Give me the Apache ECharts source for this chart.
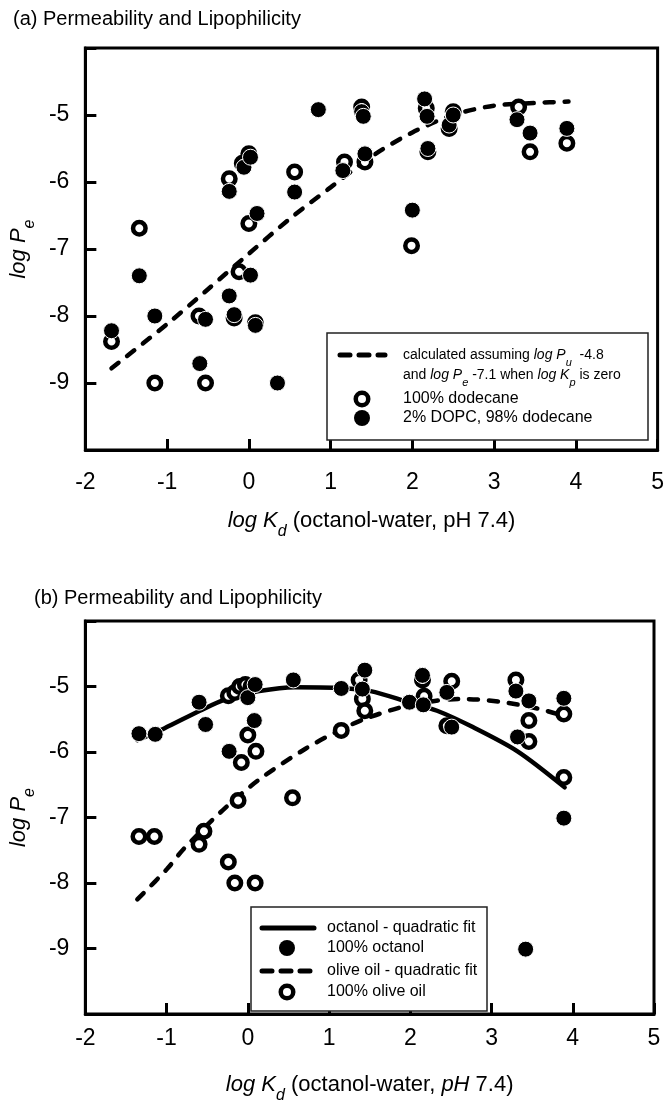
<!DOCTYPE html>
<html>
<head>
<meta charset="utf-8">
<script src="https://cdn.jsdelivr.net/npm/echarts@6/dist/echarts.min.js"></script>
<title>Permeability and Lipophilicity</title>
<style>html, body { margin: 0; padding: 0; background: #fff; }</style>
</head>
<body>
<div id="container" style="width:667px;height:1105px;"></div>
<script>
// tick labels shown on the axes
var xTickLabels = [-2, -1, 0, 1, 2, 3, 4, 5];
var yTickLabels = [-9, -8, -7, -6, -5];

// (a) log Kd vs log Pe, dodecane membranes
var dodecane = [
    [-1.68, -8.38], [-1.34, -6.69], [-1.15, -9.0], [-0.61, -8.0], [-0.53, -9.0],
    [-0.24, -5.95], [-0.18, -8.03], [-0.12, -7.34], [0.0, -6.62], [0.0, -5.58],
    [-0.08, -5.72], [0.08, -8.1], [0.56, -5.85], [1.17, -5.7], [1.38, -4.88],
    [1.42, -5.7], [1.99, -6.95], [2.17, -4.9], [2.19, -5.55], [2.45, -5.2],
    [2.5, -4.95], [3.3, -4.88], [3.44, -5.55], [3.89, -5.42]
];
var dopc = [
    [-1.68, -8.22], [-1.34, -7.4], [-1.15, -8.0], [-0.6, -8.71], [-0.53, -8.05],
    [-0.24, -6.14], [-0.24, -7.7], [-0.18, -7.98], [-0.06, -5.78], [0.02, -5.63],
    [0.1, -6.47], [0.02, -7.39], [0.08, -8.14], [0.35, -9.0], [0.56, -6.15],
    [0.85, -4.92], [1.15, -5.83], [1.38, -4.95], [1.4, -5.02], [1.42, -5.58],
    [2.0, -6.42], [2.15, -4.76], [2.18, -5.02], [2.19, -5.5], [2.45, -5.15],
    [2.5, -5.0], [3.28, -5.07], [3.44, -5.27], [3.89, -5.2]
];
var calculated = [
    [-1.68, -8.78], [-1.0, -8.12], [-0.5, -7.6], [0.0, -7.07], [0.5, -6.55],
    [1.0, -6.08], [1.5, -5.62], [2.0, -5.26], [2.5, -5.0], [3.0, -4.86],
    [3.5, -4.82], [3.91, -4.8]
];

// (b) log Kd vs log Pe, octanol and olive oil membranes
var octanol = [
    [-1.34, -5.72], [-1.14, -5.73], [-0.6, -5.24], [-0.52, -5.58], [0.0, -5.17],
    [0.09, -4.97], [0.08, -5.52], [-0.23, -5.99], [0.56, -4.9], [1.15, -5.03],
    [1.44, -4.75], [1.41, -5.04], [1.99, -5.24], [2.15, -4.83], [2.16, -5.28],
    [2.45, -5.09], [2.51, -5.62], [3.3, -5.07], [3.46, -5.22], [3.32, -5.77],
    [3.89, -5.18], [3.89, -7.01], [3.42, -9.01]
];
var oliveOil = [
    [-1.34, -7.29], [-1.15, -7.29], [-0.6, -7.41], [-0.54, -7.21], [-0.24, -7.68],
    [-0.16, -8.0], [0.09, -8.0], [-0.12, -6.74], [-0.08, -6.16], [0.0, -5.74],
    [0.1, -5.99], [0.55, -6.7], [1.15, -5.67], [-0.24, -5.14], [-0.16, -5.09],
    [-0.1, -5.0], [-0.03, -4.97], [0.04, -5.0], [1.37, -4.9], [1.41, -5.19],
    [1.44, -5.37], [2.15, -4.9], [2.17, -5.15], [2.45, -5.6], [2.51, -4.92],
    [3.3, -4.9], [3.46, -5.52], [3.46, -5.84], [3.89, -5.42], [3.89, -6.39]
];
var octanolFit = [
    [-1.36, -5.82], [-1.03, -5.64], [-0.59, -5.37], [-0.26, -5.19], [0.14, -5.07],
    [0.58, -5.01], [1.1, -5.02], [1.51, -5.07], [1.98, -5.24], [2.33, -5.37],
    [2.77, -5.62], [3.32, -5.99], [3.9, -6.54]
];
var oliveFit = [
    [-1.36, -8.25], [-0.99, -7.78], [-0.79, -7.48], [-0.31, -6.89], [0.14, -6.42],
    [0.71, -5.95], [1.11, -5.68], [1.43, -5.5], [1.88, -5.32], [2.3, -5.22],
    [2.61, -5.19], [3.09, -5.23], [3.58, -5.34], [3.86, -5.44]
];

var FONT = 'Liberation Sans, Arial, sans-serif';

var myChart = echarts.init(document.getElementById('container'));

function xAxisFor(idx, name) {
    return {
        gridIndex: idx, type: 'value', min: -2, max: 5, interval: 1,
        name: name, nameLocation: 'middle', nameGap: 52,
        nameTextStyle: {
            color: '#000', fontFamily: FONT, fontSize: 22,
            rich: {
                i: { fontStyle: 'italic', fontSize: 22, fontFamily: FONT, lineHeight: 26 },
                n: { fontSize: 22, fontFamily: FONT, lineHeight: 26 },
                sub: { fontStyle: 'italic', fontSize: 16, fontFamily: FONT, lineHeight: 38, verticalAlign: 'bottom' }
            }
        },
        axisLine: { onZero: false, lineStyle: { color: '#000', width: 3 } },
        axisTick: { inside: true, length: 11, lineStyle: { color: '#000', width: 3 } },
        axisLabel: {
            color: '#000', fontFamily: FONT, fontSize: 23, margin: idx === 0 ? 21 : 13,
            showMinLabel: true, showMaxLabel: true,
            formatter: function (v) { return xTickLabels.indexOf(v) >= 0 ? String(v) : ''; }
        },
        splitLine: { show: false }
    };
}

function yAxisFor(idx) {
    return {
        gridIndex: idx, type: 'value', min: -10, max: -4, interval: 1,
        name: '{i|log P}{sub|e}', nameLocation: 'middle', nameRotate: 90, nameGap: 47,
        nameTextStyle: {
            color: '#000', fontFamily: FONT, fontSize: 22,
            rich: {
                i: { fontStyle: 'italic', fontSize: 22, fontFamily: FONT, lineHeight: 26 },
                sub: { fontStyle: 'italic', fontSize: 16, fontFamily: FONT, lineHeight: 38, verticalAlign: 'bottom' }
            }
        },
        axisLine: { onZero: false, lineStyle: { color: '#000', width: 3 } },
        axisTick: { inside: true, length: 11, lineStyle: { color: '#000', width: 3 } },
        axisLabel: {
            color: '#000', fontFamily: FONT, fontSize: 23, margin: 16,
            formatter: function (v) { return yTickLabels.indexOf(v) >= 0 ? String(v) : ''; }
        },
        splitLine: { show: false }
    };
}

function openSeries(idx, data) {
    return {
        type: 'scatter', xAxisIndex: idx, yAxisIndex: idx, data: data, z: 3,
        symbol: 'circle', symbolSize: 12.5,
        itemStyle: { color: '#fff', borderColor: '#000', borderWidth: 4.5, opacity: 1 }
    };
}
function filledSeries(idx, data) {
    return {
        type: 'scatter', xAxisIndex: idx, yAxisIndex: idx, data: data, z: 4,
        symbol: 'circle', symbolSize: 16,
        itemStyle: { color: '#000', borderColor: '#fff', borderWidth: 1, opacity: 1 }
    };
}
function curveSeries(idx, data, dashed) {
    return {
        type: 'line', xAxisIndex: idx, yAxisIndex: idx, data: data, z: 2,
        smooth: 0.3, showSymbol: false, symbol: 'none',
        lineStyle: { color: '#000', width: 4.5, cap: 'round', type: dashed ? [9, 11] : 'solid' }
    };
}

// legend boxes drawn as graphics (two-line entries with italic / subscript text)
var legendRich = {
    n: { fontSize: 14, fontFamily: FONT, lineHeight: 18 },
    i: { fontSize: 14, fontFamily: FONT, fontStyle: 'italic', lineHeight: 18 },
    sub: { fontSize: 11, fontFamily: FONT, fontStyle: 'italic', lineHeight: 26, verticalAlign: 'bottom' }
};
function label(x, y, text, size, rich) {
    return {
        type: 'text', x: x, y: y, z: 100,
        style: { text: text, fill: '#000', fontFamily: FONT, fontSize: size, verticalAlign: 'middle', align: 'left', rich: rich }
    };
}
function ring(x, y) {
    return { type: 'circle', z: 100, shape: { cx: x, cy: y, r: 6.25 }, style: { fill: '#fff', stroke: '#000', lineWidth: 4.5 } };
}
function dot(x, y) {
    return { type: 'circle', z: 100, shape: { cx: x, cy: y, r: 8 }, style: { fill: '#000' } };
}
function sample(x1, x2, y, dashed) {
    return {
        type: 'line', z: 100, shape: { x1: x1, y1: y, x2: x2, y2: y },
        style: { stroke: '#000', lineWidth: 5, lineCap: 'round', lineDash: dashed ? [10, 9] : null }
    };
}

var graphics = [
    { type: 'rect', z: 99, shape: { x: 327, y: 333, width: 321, height: 107 }, style: { fill: '#fff', stroke: '#222', lineWidth: 1.5 } },
    sample(340, 385, 355, true),
    label(403, 355, '{n|calculated assuming }{i|log P}{sub|u}{n|  -4.8}', 14, legendRich),
    label(403, 375, '{n|and }{i|log P}{sub|e}{n| -7.1 when }{i|log K}{sub|p}{n| is zero}', 14, legendRich),
    ring(362, 399),
    label(403, 399, '100% dodecane', 16),
    dot(362, 418),
    label(403, 418, '2% DOPC, 98% dodecane', 16),

    { type: 'rect', z: 99, shape: { x: 251, y: 907, width: 236, height: 104 }, style: { fill: '#fff', stroke: '#222', lineWidth: 1.5 } },
    sample(262, 314, 928, false),
    label(327, 928, 'octanol - quadratic fit', 16),
    dot(287, 948),
    label(327, 948, '100% octanol', 16),
    sample(262, 314, 971, true),
    label(327, 971, 'olive oil - quadratic fit', 16),
    ring(287, 992),
    label(327, 992, '100% olive oil', 16)
];

var option = {
    animation: false,
    backgroundColor: '#fff',
    title: [
        { text: '(a) Permeability and Lipophilicity', left: 8, top: 4, textStyle: { color: '#000', fontFamily: FONT, fontSize: 20, fontWeight: 'normal' } },
        { text: '(b) Permeability and Lipophilicity', left: 29, top: 583, textStyle: { color: '#000', fontFamily: FONT, fontSize: 20, fontWeight: 'normal' } }
    ],
    grid: [
        { left: 82, top: 48, width: 576, height: 402, show: true, borderColor: '#000', borderWidth: 3, containLabel: false },
        { left: 77, top: 621, width: 577, height: 401, show: true, borderColor: '#000', borderWidth: 3, containLabel: false }
    ],
    xAxis: [
        xAxisFor(0, '{i|log K}{sub|d}{n| (octanol-water, pH 7.4)}'),
        xAxisFor(1, '{i|log K}{sub|d}{n| (octanol-water, }{i|pH}{n| 7.4)}')
    ],
    yAxis: [yAxisFor(0), yAxisFor(1)],
    series: [
        curveSeries(0, calculated, true),
        openSeries(0, dodecane),
        filledSeries(0, dopc),
        curveSeries(1, octanolFit, false),
        curveSeries(1, oliveFit, true),
        openSeries(1, oliveOil),
        filledSeries(1, octanol)
    ],
    graphic: graphics
};

myChart.setOption(option);
</script>
</body>
</html>
